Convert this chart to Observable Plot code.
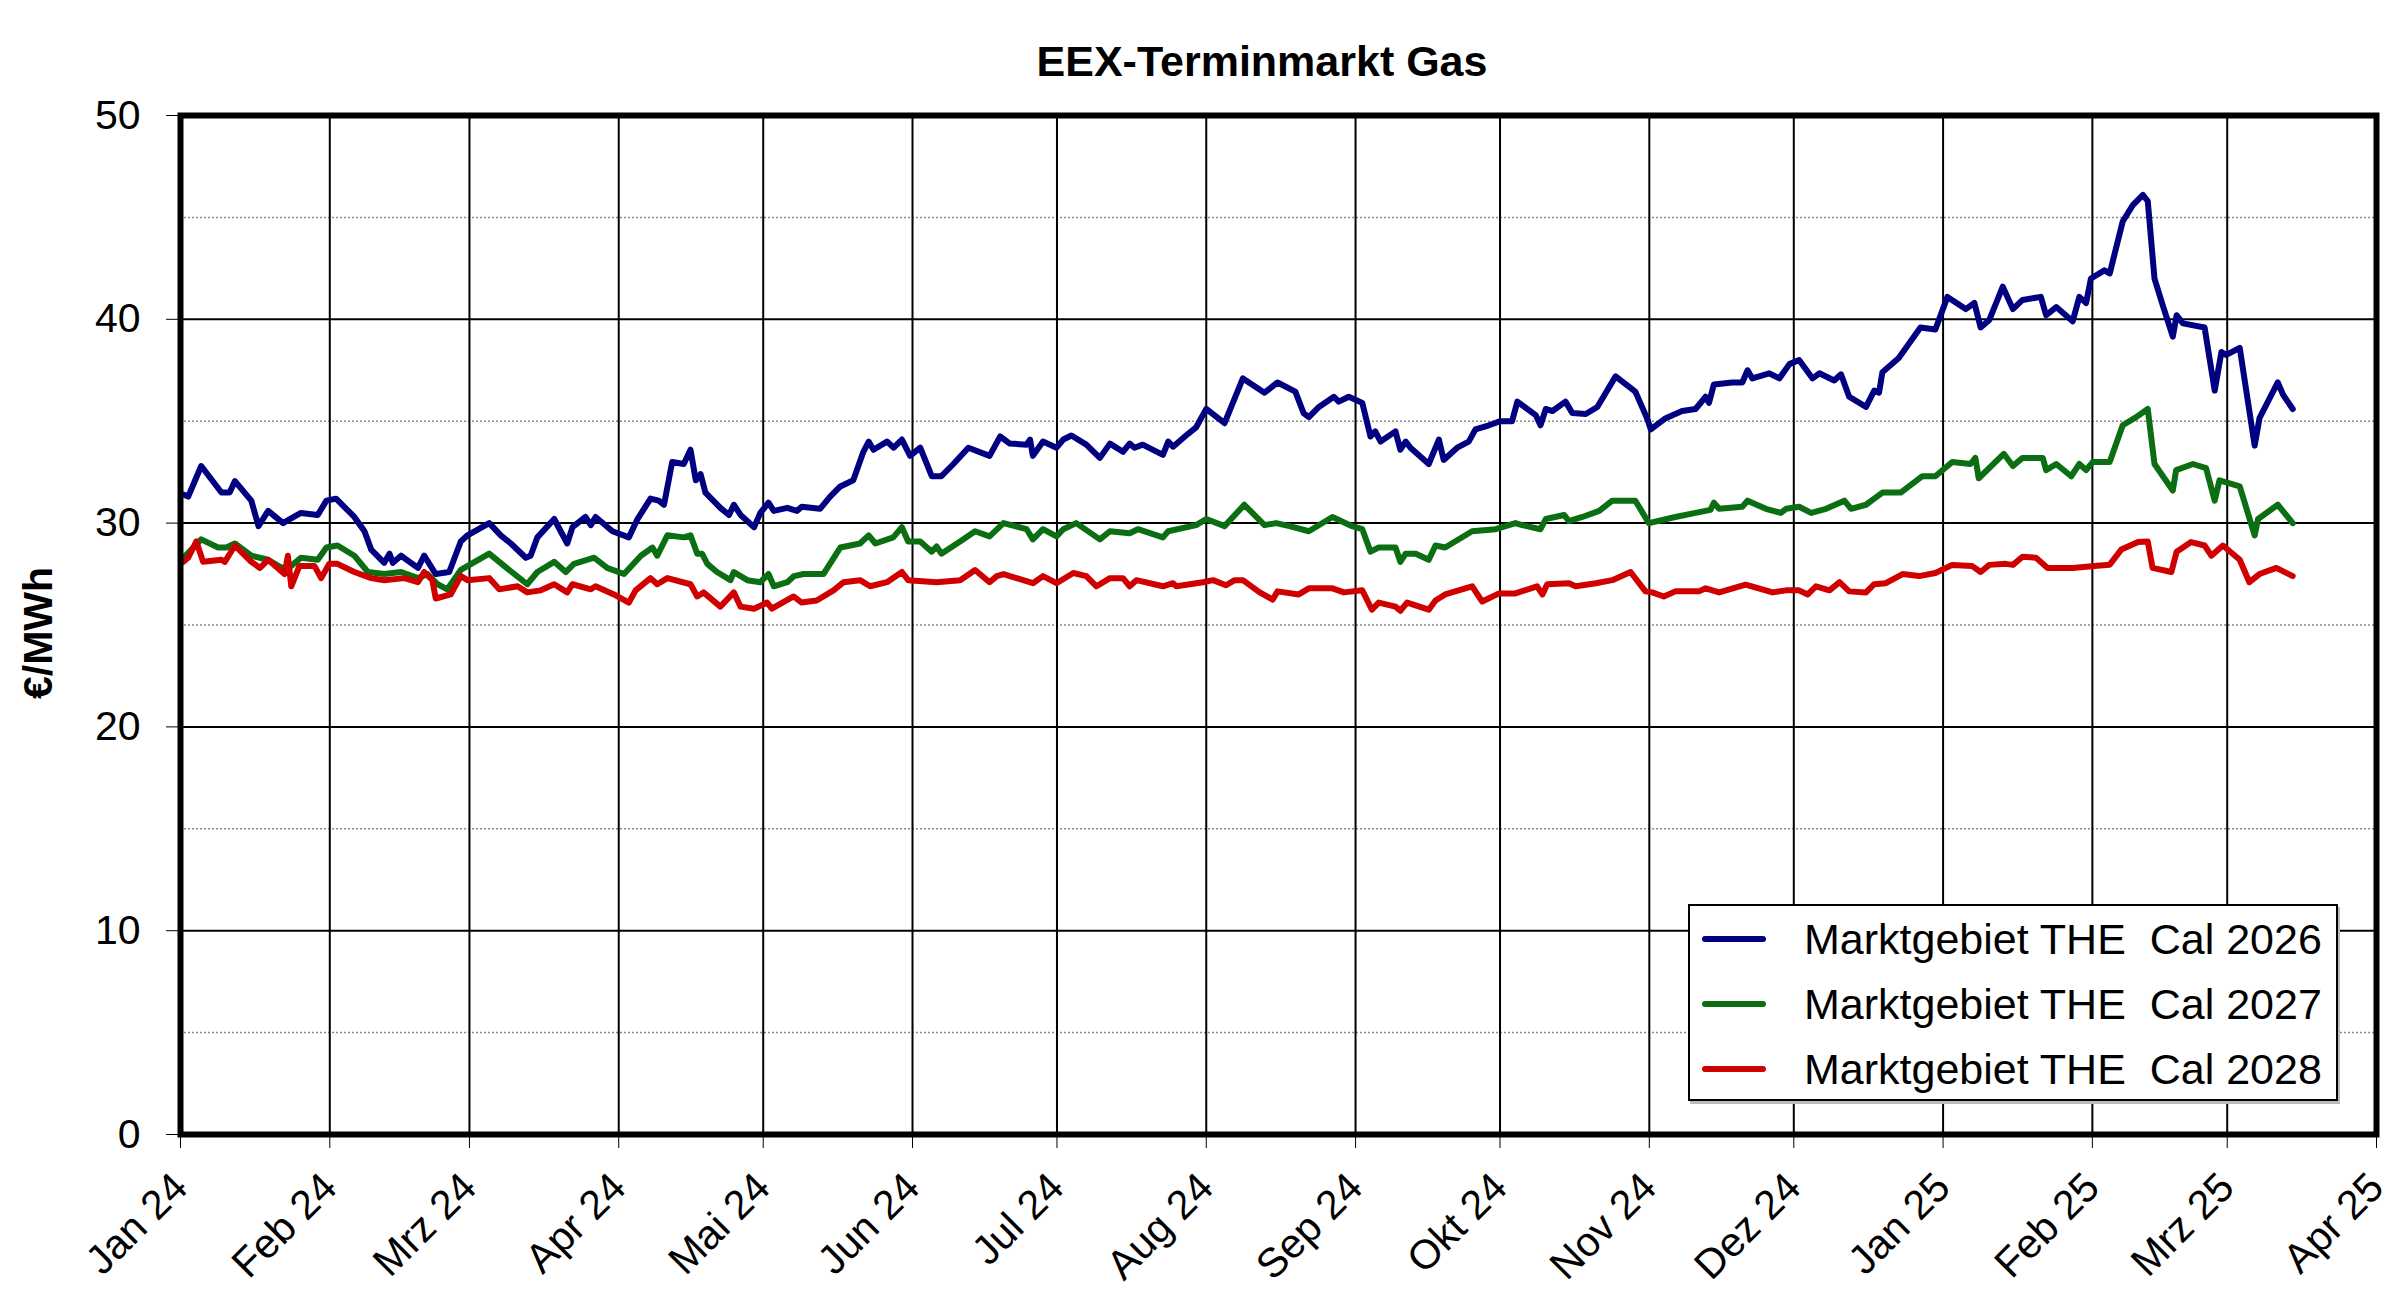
<!DOCTYPE html>
<html>
<head>
<meta charset="utf-8">
<script src="https://cdn.jsdelivr.net/npm/d3@7"></script>
<script src="https://cdn.jsdelivr.net/npm/@observablehq/plot@0.6"></script>
<style>
  html, body { margin: 0; padding: 0; background: #fff; }
  body { width: 2400px; height: 1305px; overflow: hidden; font-family: "Liberation Sans", Arial, sans-serif; }
  #wrap { position: relative; width: 2400px; height: 1305px; }
  #title { position: absolute; top: 40px; left: 1262px; transform: translateX(-50%); font-weight: bold; font-size: 43px; line-height: 43px; white-space: nowrap; color: #000; }
  #chart { position: absolute; top: 100px; left: 0; }
  #legend { position: absolute; left: 1688px; top: 904px; width: 646px; height: 193px; border: 2px solid #000; background: #fff; box-shadow: 2px 3px 0 #bbb; }
  .row { position: absolute; left: 0; height: 50px; width: 100%; }
  .swatch { position: absolute; left: 12px; top: 22px; width: 64px; height: 6px; border-radius: 3px; }
  .lab { position: absolute; left: 114px; top: 0; font-size: 43px; line-height: 50px; white-space: pre; color: #000; }
</style>
</head>
<body>
<div id="wrap">
  <div id="title">EEX-Terminmarkt Gas</div>
  <div id="chart"></div>
  <div id="legend"></div>
</div>
<script>
// Series names and colours
const seriesNames = ["Marktgebiet THE  Cal 2026", "Marktgebiet THE  Cal 2027", "Marktgebiet THE  Cal 2028"];
const seriesColors = ["#000080", "#0b6e12", "#d10000"];

// X tick labels (month starts Jan 2024 .. Apr 2025)
const monthLabels = ["Jan 24","Feb 24","Mrz 24","Apr 24","Mai 24","Jun 24","Jul 24","Aug 24","Sep 24","Okt 24","Nov 24","Dez 24","Jan 25","Feb 25","Mrz 25","Apr 25"];
const yMajor = [0, 10, 20, 30, 40, 50];
const yMinor = [5, 15, 25, 35, 45];

// Days after 1 Jan 2024 and prices (€/MWh)
const cal26Days = [0.6,1.6,4.3,8.5,10.2,11.3,14.7,16.2,18.2,21.3,22.7,25.0,28.5,30.3,32.3,36.1,38.2,39.6,42.3,43.4,44.1,45.8,49.3,50.6,53.0,55.8,58.2,59.6,64.1,66.5,68.6,71.7,72.7,74.1,77.6,80.3,81.4,84.1,85.2,86.2,89.7,93.1,94.9,97.6,99.3,100.4,102.1,104.5,105.9,107.0,108.0,109.0,112.1,113.9,114.9,116.3,119.1,120.4,122.1,123.2,126.0,128.0,129.0,132.8,134.9,137.0,139.7,141.8,142.9,143.9,146.7,148.1,149.8,151.5,153.6,156.0,158.0,160.5,163.6,168.0,170.2,172.2,175.7,176.4,177.0,179.1,181.9,183.3,185.0,188.1,190.9,193.0,195.7,197.1,198.1,199.8,204.0,205.1,206.1,208.8,210.9,213.0,216.8,220.6,225.1,227.8,231.5,233.2,234.3,236.4,239.5,240.5,242.6,245.4,247.1,248.1,249.2,252.3,253.3,254.4,255.4,259.2,261.3,262.3,265.1,267.5,268.9,271.7,274.1,276.5,277.6,281.4,282.4,283.5,284.9,287.6,289.0,291.8,294.2,298.0,302.1,304.6,305.3,308.4,311.8,314.6,316.7,317.4,318.4,322.2,324.3,325.4,326.4,329.9,332.0,334.1,336.1,338.9,340.3,343.4,344.8,346.5,350.0,351.7,352.7,353.4,356.8,361.3,364.4,366.9,370.7,372.5,373.8,375.6,378.4,380.5,382.5,386.3,387.4,389.5,392.9,394.3,395.7,396.7,399.5,400.6,403.3,405.4,407.5,408.5,409.9,411.6,413.7,414.5,415.8,420.3,422.4,423.8,424.8,427.6,430.7,431.7,435.5,436.6,438.6];
const cal26Values = [31.4,31.3,32.8,31.5,31.5,32.06,31.1,29.85,30.6,30.0,30.2,30.5,30.4,31.1,31.2,30.3,29.6,28.7,28.05,28.5,28.05,28.4,27.8,28.4,27.5,27.6,29.1,29.4,30.0,29.4,29.0,28.3,28.4,29.3,30.2,29.0,29.8,30.3,29.9,30.3,29.6,29.3,30.2,31.2,31.1,30.9,33.0,32.9,33.6,32.1,32.4,31.5,30.75,30.4,30.9,30.4,29.8,30.5,31.0,30.6,30.75,30.6,30.8,30.7,31.3,31.8,32.1,33.5,34.0,33.6,34.0,33.7,34.1,33.3,33.7,32.3,32.3,32.9,33.7,33.3,34.25,33.9,33.85,34.1,33.3,34.0,33.7,34.1,34.3,33.85,33.2,33.9,33.5,33.9,33.7,33.85,33.35,34.0,33.75,34.3,34.7,35.6,34.9,37.1,36.4,36.9,36.45,35.4,35.2,35.7,36.2,35.96,36.2,35.9,34.25,34.5,34.0,34.5,33.6,34.0,33.7,32.9,34.1,33.1,33.7,34.0,34.6,34.8,35.0,35.0,35.96,35.3,34.8,35.6,35.5,35.96,35.4,35.35,35.7,37.2,36.45,35.1,34.6,35.15,35.5,35.6,36.2,35.9,36.8,36.9,36.9,37.5,37.1,37.35,37.1,37.8,38.0,37.1,37.35,37.0,37.3,36.2,35.7,36.5,36.4,37.4,38.1,39.6,39.5,41.1,40.5,40.8,39.6,39.97,41.6,40.5,40.95,41.1,40.2,40.6,39.9,41.1,40.8,42.0,42.4,42.25,44.8,45.6,46.1,45.8,42.0,40.7,39.15,40.2,39.8,39.6,36.5,38.4,38.25,38.6,33.8,35.15,36.9,36.3,35.6];

const cal27Days = [0.6,4.3,7.8,9.5,11.3,14.7,18.2,21.0,23.0,25.0,28.5,30.3,32.6,36.1,38.9,42.3,45.8,49.3,51.3,53.4,55.4,58.2,64.1,67.2,72.0,74.1,77.6,80.0,81.7,85.9,88.6,92.1,95.6,98.0,99.0,101.1,104.5,105.9,107.3,108.3,109.4,111.4,114.2,114.9,117.7,120.4,122.1,123.2,126.0,127.4,129.4,133.5,137.0,141.1,142.9,144.3,148.0,149.8,151.1,153.6,156.0,157.0,158.0,162.5,165.0,168.0,170.9,175.7,177.0,179.1,181.9,183.3,186.0,190.9,193.0,197.1,198.8,204.0,205.1,210.9,213.0,216.8,220.9,225.1,227.5,230.3,234.3,239.2,243.3,245.4,247.1,248.8,252.3,253.3,254.4,256.5,259.2,260.6,262.6,268.2,273.1,277.2,278.6,282.4,283.5,287.3,288.3,291.1,294.6,297.3,302.1,304.9,310.4,314.6,317.7,318.4,319.5,324.3,325.4,329.2,332.3,333.4,336.1,338.6,341.7,345.5,346.9,350.0,351.7,353.4,357.2,361.7,364.4,367.9,371.7,372.7,373.4,378.6,380.5,382.5,386.7,387.4,389.5,392.6,394.3,395.7,397.1,400.6,403.3,406.1,408.5,409.9,413.7,414.4,417.9,420.6,422.4,423.4,427.6,430.7,431.4,435.5,438.6];
const cal27Values = [28.3,29.2,28.8,28.8,29.0,28.4,28.2,27.8,27.9,28.3,28.2,28.8,28.9,28.4,27.6,27.5,27.6,27.3,27.5,27.0,26.75,27.7,28.5,27.9,27.0,27.6,28.1,27.6,28.0,28.3,27.8,27.5,28.4,28.8,28.4,29.4,29.3,29.4,28.5,28.5,28.0,27.6,27.2,27.6,27.2,27.1,27.5,26.9,27.1,27.4,27.5,27.5,28.8,29.0,29.4,29.0,29.3,29.8,29.1,29.1,28.6,28.85,28.5,29.2,29.6,29.35,30.0,29.7,29.2,29.7,29.35,29.7,30.0,29.2,29.6,29.5,29.7,29.3,29.6,29.9,30.2,29.85,30.9,29.9,30.0,29.85,29.6,30.3,29.85,29.7,28.6,28.8,28.8,28.1,28.5,28.5,28.2,28.9,28.8,29.6,29.7,30.0,29.9,29.7,30.2,30.4,30.1,30.3,30.6,31.1,31.1,30.0,30.3,30.5,30.65,31.0,30.7,30.8,31.1,30.7,30.5,30.7,30.8,30.5,30.7,31.1,30.7,30.9,31.2,31.5,31.5,32.3,32.3,33.0,32.9,33.2,32.2,33.4,32.8,33.2,33.2,32.6,32.9,32.3,32.9,32.6,33.0,33.0,34.8,35.2,35.6,32.9,31.6,32.6,32.9,32.7,31.1,32.1,31.8,29.4,30.2,30.9,30.0];

const cal28Days = [0.6,1.6,3.3,4.7,8.5,9.2,11.3,14.7,16.5,18.2,21.6,22.3,23.0,24.7,27.8,29.2,30.9,32.6,36.1,39.6,42.3,46.5,49.3,50.6,52.3,53.0,56.1,58.2,59.6,64.1,66.2,70.0,72.0,74.8,77.6,80.3,81.4,85.2,86.2,90.0,93.1,94.5,97.6,99.0,101.1,105.9,107.3,108.6,112.1,114.9,116.3,119.1,121.8,122.8,127.3,129.0,132.1,135.6,137.7,141.1,143.2,146.7,149.8,151.1,157.0,161.9,165.0,168.0,169.5,170.9,177.0,179.1,181.9,185.4,188.1,190.2,193.0,195.7,197.1,198.5,204.0,206.1,206.8,212.3,214.4,217.1,218.9,220.6,224.1,226.8,227.8,232.2,234.3,239.2,241.6,245.4,247.4,248.8,252.3,253.3,254.7,259.2,260.6,262.6,268.2,270.3,273.8,277.2,281.7,282.8,283.8,288.3,289.7,293.9,297.3,301.1,304.2,305.6,308.0,310.4,315.3,316.7,319.5,325.0,330.6,333.4,336.1,337.9,339.6,342.4,344.5,346.5,350.0,351.7,354.1,357.6,361.0,364.4,367.9,372.0,373.8,375.6,379.0,380.5,382.5,385.3,387.7,392.9,397.4,400.6,403.0,406.5,408.5,409.5,413.4,414.5,417.5,420.3,421.7,424.1,427.6,429.6,431.7,435.2,438.6];
const cal28Values = [28.1,28.3,29.1,28.1,28.2,28.1,28.9,28.1,27.8,28.2,27.5,28.4,26.9,27.9,27.9,27.3,28.0,28.0,27.6,27.3,27.2,27.3,27.1,27.6,27.2,26.3,26.5,27.4,27.2,27.3,26.75,26.9,26.6,26.7,27.0,26.6,27.0,26.75,26.9,26.5,26.1,26.7,27.3,27.0,27.3,27.0,26.4,26.6,25.9,26.6,25.9,25.8,26.1,25.8,26.4,26.1,26.2,26.7,27.1,27.2,26.9,27.1,27.6,27.2,27.1,27.2,27.7,27.1,27.4,27.5,27.05,27.4,27.05,27.55,27.4,26.9,27.3,27.3,26.9,27.2,26.9,27.05,26.9,27.1,27.2,26.95,27.2,27.2,26.6,26.25,26.65,26.5,26.8,26.8,26.6,26.7,25.75,26.1,25.9,25.7,26.1,25.75,26.2,26.5,26.9,26.15,26.55,26.55,26.9,26.5,27.0,27.05,26.9,27.05,27.2,27.6,26.65,26.6,26.4,26.65,26.65,26.8,26.6,26.98,26.6,26.7,26.7,26.5,26.9,26.7,27.1,26.65,26.6,27.0,27.05,27.5,27.4,27.55,27.95,27.9,27.6,27.95,28.0,27.95,28.35,28.3,27.8,27.8,27.9,27.96,28.7,29.07,29.1,27.8,27.6,28.6,29.07,28.9,28.4,28.9,28.2,27.1,27.5,27.8,27.4];

// ---- build table ----
const START = Date.UTC(2024, 0, 1);
const dayToDate = d => new Date(START + d * 864e5);
const seriesDays = [cal26Days, cal27Days, cal28Days];
const seriesValues = [cal26Values, cal27Values, cal28Values];
const rows = [];
seriesNames.forEach((name, s) => {
  seriesDays[s].forEach((d, i) => rows.push({series: name, date: dayToDate(d), value: seriesValues[s][i]}));
});
const monthTicks = monthLabels.map((_, i) => new Date(Date.UTC(2024, i, 1)));
const labelFor = d => monthLabels[(d.getUTCFullYear() - 2024) * 12 + d.getUTCMonth()];

const chart = Plot.plot({
  width: 2400,
  height: 1205,
  marginLeft: 180,
  marginRight: 24,
  marginTop: 15,
  marginBottom: 171,
  style: {fontFamily: "'Liberation Sans', Arial, sans-serif", fontSize: "41px", background: "#fff", color: "#000", overflow: "visible"},
  x: {type: "utc", domain: [monthTicks[0], monthTicks[monthTicks.length - 1]]},
  y: {domain: [0, 50]},
  color: {domain: seriesNames, range: seriesColors},
  marks: [
    Plot.ruleY(yMinor, {stroke: "#8a8a8a", strokeWidth: 1.5, strokeDasharray: "2,2"}),
    Plot.ruleY(yMajor, {stroke: "#000", strokeWidth: 2}),
    Plot.ruleX(monthTicks, {stroke: "#000", strokeWidth: 2}),
    Plot.line(rows, {x: "date", y: "value", stroke: "series", z: "series", strokeWidth: 6, strokeLinejoin: "round", strokeLinecap: "round"}),
    Plot.frame({stroke: "#000", strokeWidth: 6}),
    Plot.axisY({ticks: yMajor, tickSize: 14, tickPadding: 26, label: null, fontSize: 41}),
    Plot.axisX({ticks: monthTicks, tickFormat: labelFor, tickSize: 14, tickPadding: 32, tickRotate: -45, label: null, fontSize: 41}),
    Plot.text(["€/MWh"], {frameAnchor: "left", text: d => d, rotate: -90, textAnchor: "middle", dx: -142, dy: 8, fontWeight: "bold", fontSize: 41})
  ]
});
document.getElementById("chart").appendChild(chart);

// Legend (inside plot area, as in the reference)
const legend = document.getElementById("legend");
seriesNames.forEach((name, i) => {
  const row = document.createElement("div");
  row.className = "row";
  row.style.top = (8 + i * 65) + "px";
  const sw = document.createElement("div");
  sw.className = "swatch";
  sw.style.background = seriesColors[i];
  const lab = document.createElement("div");
  lab.className = "lab";
  lab.textContent = name;
  row.appendChild(sw);
  row.appendChild(lab);
  legend.appendChild(row);
});
</script>
</body>
</html>
